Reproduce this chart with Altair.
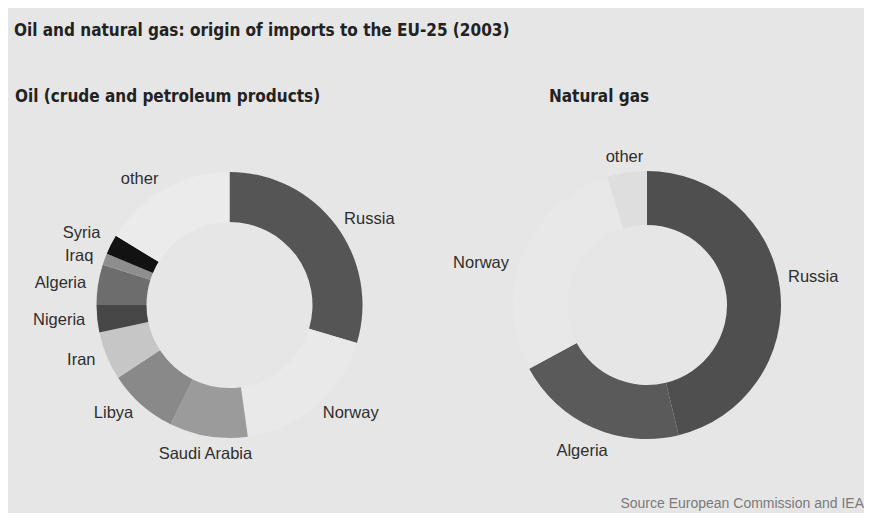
import json
import altair as alt
import pandas as pd

# ---- data ----
oil_countries = ["Russia", "Norway", "Saudi Arabia", "Libya", "Iran",
                 "Nigeria", "Algeria", "Iraq", "Syria", "other"]
oil_shares = [29.6, 18.2, 9.5, 8.5, 5.9, 3.3, 4.9, 1.4, 2.4, 16.3]

gas_countries = ["Russia", "Algeria", "Norway", "other"]
gas_shares = [46.2, 20.9, 28.1, 4.8]

title_text = "Oil and natural gas: origin of imports to the EU-25 (2003)"
oil_title = "Oil (crude and petroleum products)"
gas_title = "Natural gas"
source_text = "Source European Commission and IEA"

# ---- styles ----
oil_colors = ["#555555", "#e9e9e9", "#9b9b9b", "#898989", "#c6c6c6",
              "#474747", "#6d6d6d", "#8e8e8e", "#121212", "#ebebeb"]
gas_colors = ["#4f4f4f", "#5a5a5a", "#e8e8e8", "#dedede"]

BG = "#e6e6e6"
NARROW = "DejaVu Sans Condensed, sans-serif"
LABEL_FONT = "Liberation Sans, Arial, sans-serif"
W, H = 856, 505
OIL_C = (221.5, 297)
GAS_C = (639, 297)

oil_df = pd.DataFrame({"country": oil_countries, "share": oil_shares,
                       "idx": list(range(len(oil_countries)))})
gas_df = pd.DataFrame({"country": gas_countries, "share": gas_shares,
                       "idx": list(range(len(gas_countries)))})


def donut(df, colors, center, inner, outer):
    return alt.Chart(df).mark_arc(innerRadius=inner, outerRadius=outer).encode(
        theta=alt.Theta("share:Q", stack=True),
        order=alt.Order("idx:Q"),
        color=alt.Color("country:N",
                        scale=alt.Scale(domain=list(df["country"]), range=colors),
                        legend=None),
        x=alt.value(center[0]),
        y=alt.value(center[1]),
    )


def labels(df, center, names, radius, align, dy=0):
    expr = "indexof(%s, datum.country) >= 0 ? datum.country : ''" % json.dumps(names)
    return alt.Chart(df).transform_calculate(lab=expr).mark_text(
        radius=radius, align=align, baseline="middle", dy=dy,
        font=LABEL_FONT, fontSize=16.5, color="#2e2e2e",
    ).encode(
        theta=alt.Theta("share:Q", stack=True),
        order=alt.Order("idx:Q"),
        detail="country:N",
        text="lab:N",
        x=alt.value(center[0]),
        y=alt.value(center[1]),
    )


def static_text(txt, x, y, size, font, weight="normal", align="left", color="#222222"):
    return alt.Chart(pd.DataFrame({"t": [txt]})).mark_text(
        align=align, baseline="middle", font=font, fontSize=size,
        fontWeight=weight, color=color,
    ).encode(text="t:N", x=alt.value(x), y=alt.value(y))


layers = [
    donut(oil_df, oil_colors, OIL_C, 83, 133),
    labels(oil_df, OIL_C, ["Russia", "Norway"], 143, "left"),
    labels(oil_df, OIL_C, ["Libya", "Iran", "Nigeria", "Algeria", "other"], 145, "right"),
    labels(oil_df, OIL_C, ["Iraq"], 145, "right", dy=1),
    labels(oil_df, OIL_C, ["Syria"], 145, "right", dy=-6),
    labels(oil_df, OIL_C, ["Saudi Arabia"], 151, "center"),
    donut(gas_df, gas_colors, GAS_C, 80, 134),
    labels(gas_df, GAS_C, ["Russia"], 142, "left", dy=-11),
    labels(gas_df, GAS_C, ["Norway"], 149, "right", dy=14),
    labels(gas_df, GAS_C, ["Algeria"], 160, "center"),
    labels(gas_df, GAS_C, ["other"], 150, "center"),
    static_text(title_text, 6, 23, 17, NARROW, "bold"),
    static_text(oil_title, 7, 89, 17, NARROW, "bold"),
    static_text(gas_title, 541, 89, 17, NARROW, "bold"),
    static_text(source_text, 856, 496, 14, LABEL_FONT, align="right", color="#7a7a7a"),
]

chart = alt.layer(*layers).resolve_scale(color="independent").properties(
    width=W, height=H, autosize=alt.AutoSizeParams(type="none"), padding=0,
).configure(background=BG).configure_view(stroke=None)

chart.save("out.html", embed_options={"renderer": "svg", "actions": False})
